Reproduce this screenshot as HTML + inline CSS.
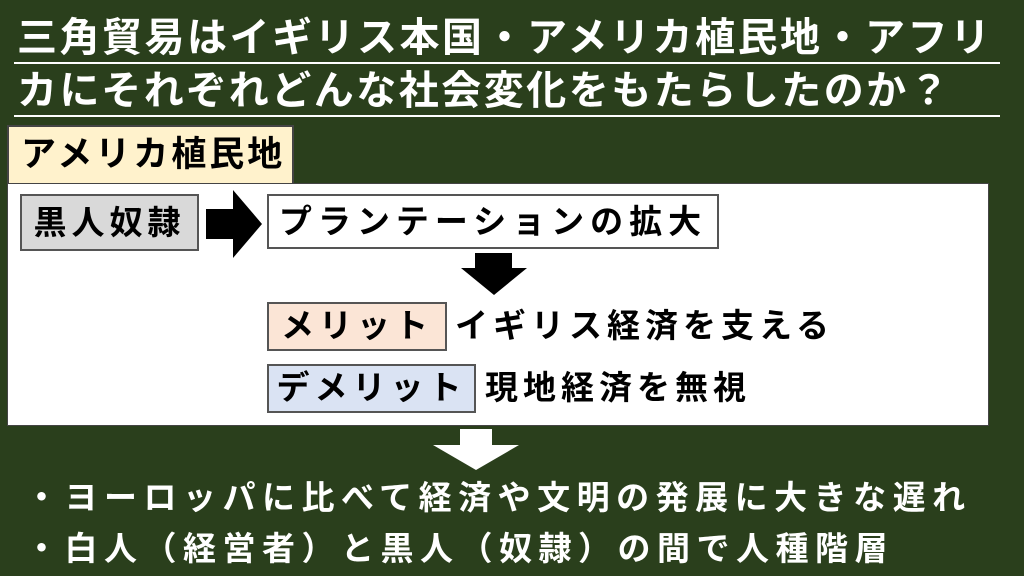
<!DOCTYPE html>
<html><head><meta charset="utf-8"><style>
body{margin:0;width:1024px;height:576px;background:#2a3f1c;position:relative;overflow:hidden;font-family:"Liberation Sans","Noto Sans CJK JP",sans-serif;font-weight:bold}
.a{position:absolute;white-space:nowrap}
.t{color:#fff;font-size:40px;letter-spacing:2.5px;line-height:48px;left:17px}
.u{position:absolute;left:14px;width:986px;height:2px;background:#fff}
.bx{position:absolute;box-sizing:border-box;border:2px solid #555;font-size:33px;line-height:44px;text-align:center;letter-spacing:5px;color:#000}
.k{font-size:33px;color:#000;letter-spacing:5px;line-height:44px}
.w{color:#fff;font-size:33px;letter-spacing:6.5px;line-height:44px}
</style></head><body>
<div class="a t" style="top:14px">三角貿易はイギリス本国・アメリカ植民地・アフリ</div>
<div class="u" style="top:62px"></div>
<div class="a t" style="top:67px">カにそれぞれどんな社会変化をもたらしたのか？</div>
<div class="u" style="top:115px"></div>
<div class="bx" style="left:7px;top:125px;width:287px;height:60px;background:#fff2cc;border-color:#444;text-align:left;padding-left:12px;line-height:56px;font-size:35px;letter-spacing:3px">アメリカ植民地</div>
<div style="position:absolute;left:7px;top:183px;width:982px;height:243px;background:#fff;border:1px solid #444;box-sizing:border-box"></div>
<div class="bx" style="left:20px;top:194px;width:179px;height:57px;background:#d9d9d9;line-height:53px">黒人奴隷</div>
<svg class="a" style="left:203px;top:189px" width="62" height="70"><polygon points="3,20 30,20 30,1 59,35 30,69 30,50 3,50" fill="#000"/></svg>
<div class="bx" style="left:267px;top:194px;width:452px;height:55px;background:#fff;line-height:51px;letter-spacing:6px">プランテーションの拡大</div>
<svg class="a" style="left:460px;top:252px" width="70" height="44"><polygon points="15,1 52,1 52,16 67,16 34,43 1,16 15,16" fill="#000"/></svg>
<div class="bx" style="left:267px;top:302px;width:180px;height:49px;background:#fbe5d6">メリット</div>
<div class="a k" style="left:455px;top:304px">イギリス経済を支える</div>
<div class="bx" style="left:267px;top:364px;width:209px;height:49px;background:#dae3f3">デメリット</div>
<div class="a k" style="left:485px;top:366px">現地経済を無視</div>
<svg class="a" style="left:430px;top:428px" width="92" height="44"><polygon points="30,1 62,1 62,17 89,17 46,42 3,17 30,17" fill="#fff"/></svg>
<div class="a w" style="left:25px;top:476px">・ヨーロッパに比べて経済や文明の発展に大きな遅れ</div>
<div class="a w" style="left:25px;top:527px">・白人（経営者）と黒人（奴隷）の間で人種階層</div>
</body></html>
